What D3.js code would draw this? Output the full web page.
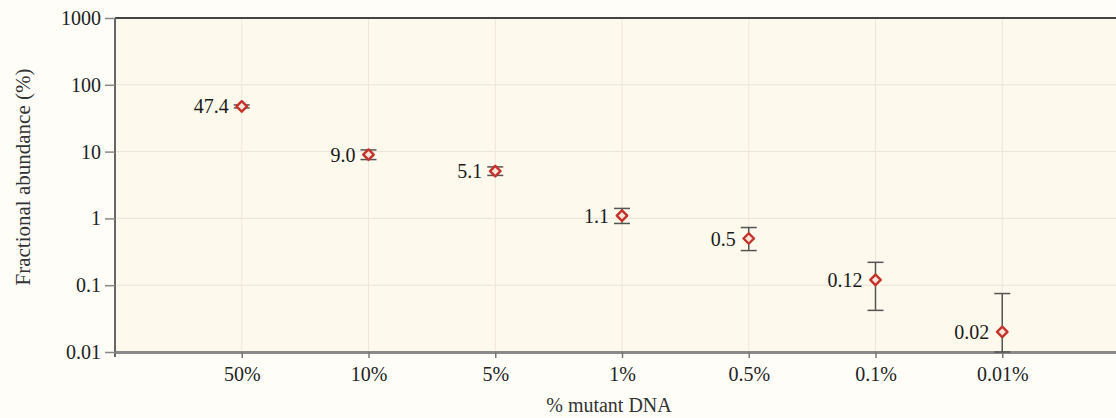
<!DOCTYPE html>
<html>
<head>
<meta charset="utf-8">
<script src="https://cdn.jsdelivr.net/npm/d3@7"></script>
<style>
  body { margin: 0; background: #fefdf7; }
  svg { display: block; }
  svg text { font-family: "Liberation Serif", "Times New Roman", "DejaVu Serif", serif; }
</style>
</head>
<body>
<div id="chart"></div>
<script>
// Daten
const categories = ["50%", "10%", "5%", "1%", "0.5%", "0.1%", "0.01%"];
const values = [47.4, 9.0, 5.1, 1.1, 0.5, 0.12, 0.02];
const labels = ["47.4", "9.0", "5.1", "1.1", "0.5", "0.12", "0.02"];
const errLow = [45, 7.6, 4.4, 0.84, 0.33, 0.042, 0.01];
const errHigh = [50, 10.6, 5.9, 1.41, 0.73, 0.22, 0.075];
const yTicks = [0.01, 0.1, 1, 10, 100, 1000];
const yTickLabels = ["0.01", "0.1", "1", "10", "100", "1000"];

const width = 1116;
const height = 418;
const margin = { top: 18, right: -13, bottom: 66, left: 115 };
const innerW = width - margin.left - margin.right;
const innerH = height - margin.top - margin.bottom;

const svgRoot = d3.select("#chart")
  .append("svg")
  .attr("width", width)
  .attr("height", height);

const svg = svgRoot.append("g")
  .attr("transform", `translate(${margin.left}, ${margin.top})`);

const x = d3.scalePoint()
  .domain(categories)
  .range([0, innerW])
  .padding(1);

const y = d3.scaleLog()
  .domain([0.01, 1000])
  .range([innerH, 0]);

// Hintergrund der Plotfläche
svg.append("rect")
  .attr("width", innerW)
  .attr("height", innerH)
  .attr("fill", "#fdf9ec");

// Gitterlinien
svg.append("g")
  .selectAll("line")
  .data(yTicks.slice(1, -1))
  .join("line")
  .attr("x1", 0)
  .attr("x2", innerW)
  .attr("y1", d => y(d))
  .attr("y2", d => y(d))
  .attr("stroke", "#ece3da")
  .attr("stroke-width", 1);

svg.append("g")
  .selectAll("line")
  .data(categories)
  .join("line")
  .attr("x1", d => x(d))
  .attr("x2", d => x(d))
  .attr("y1", 0)
  .attr("y2", innerH)
  .attr("stroke", "#f0e4dc")
  .attr("stroke-width", 1);

// Obere Begrenzung
svg.append("line")
  .attr("x1", 0)
  .attr("x2", innerW)
  .attr("y1", 0)
  .attr("y2", 0)
  .attr("stroke", "#444")
  .attr("stroke-width", 2);

// Y-Achse
const yAxis = svg.append("g")
  .call(d3.axisLeft(y)
    .tickValues(yTicks)
    .tickFormat((d, i) => yTickLabels[i])
    .tickSizeInner(10)
    .tickSizeOuter(0)
    .tickPadding(4));
yAxis.attr("font-family", null);
yAxis.select(".domain")
  .attr("stroke", "#666")
  .attr("stroke-width", 2)
  .attr("d", `M0,0V${innerH + 5}`);
yAxis.selectAll(".tick line").attr("stroke", "#888").attr("stroke-width", 1.5);
yAxis.selectAll(".tick text")
  .attr("font-size", 20)
  .attr("fill", "#222");

// X-Achse
const xAxis = svg.append("g")
  .attr("transform", `translate(0,${innerH})`)
  .call(d3.axisBottom(x)
    .tickSizeInner(6)
    .tickSizeOuter(0)
    .tickPadding(9));
xAxis.attr("font-family", null);
xAxis.select(".domain")
  .attr("stroke", "#8a8a8a")
  .attr("stroke-width", 3);
xAxis.selectAll(".tick line").attr("stroke", "#777").attr("stroke-width", 1.5);
xAxis.selectAll(".tick text")
  .attr("font-size", 20)
  .attr("fill", "#222");

// Achsentitel
svgRoot.append("text")
  .attr("transform", `translate(30, ${margin.top + 159}) rotate(-90)`)
  .attr("text-anchor", "middle")
  .attr("font-size", 21)
  .attr("fill", "#333")
  .text("Fractional abundance (%)");

svgRoot.append("text")
  .attr("x", margin.left + x("1%") - 13)
  .attr("y", 412)
  .attr("text-anchor", "middle")
  .attr("font-size", 20)
  .attr("fill", "#333")
  .text("% mutant DNA");

// Fehlerbalken und Punkte
const pts = categories.map((c, i) => ({
  cat: c, v: values[i], lo: errLow[i], hi: errHigh[i], label: labels[i]
}));

const g = svg.selectAll(".pt")
  .data(pts)
  .join("g")
  .attr("class", "pt")
  .attr("transform", d => `translate(${x(d.cat)},0)`);

g.append("line")
  .attr("y1", d => y(d.lo))
  .attr("y2", d => y(d.hi))
  .attr("stroke", "#555")
  .attr("stroke-width", 1.5);

g.append("line")
  .attr("x1", -8).attr("x2", 8)
  .attr("y1", d => y(d.hi)).attr("y2", d => y(d.hi))
  .attr("stroke", "#555")
  .attr("stroke-width", 1.5);

g.append("line")
  .attr("x1", -8).attr("x2", 8)
  .attr("y1", d => y(d.lo)).attr("y2", d => y(d.lo))
  .attr("stroke", "#555")
  .attr("stroke-width", 1.5);

g.append("path")
  .attr("d", d3.symbol(d3.symbolDiamond2, 70))
  .attr("transform", d => `translate(0,${y(d.v)})`)
  .attr("fill", "#f8e6dc")
  .attr("stroke", "#c5312b")
  .attr("stroke-width", 2.4)
  .attr("stroke-linejoin", "round");

g.append("text")
  .attr("x", -13)
  .attr("y", d => y(d.v) + 7)
  .attr("text-anchor", "end")
  .attr("font-size", 20)
  .attr("fill", "#1a1a1a")
  .text(d => d.label);
</script>
</body>
</html>
